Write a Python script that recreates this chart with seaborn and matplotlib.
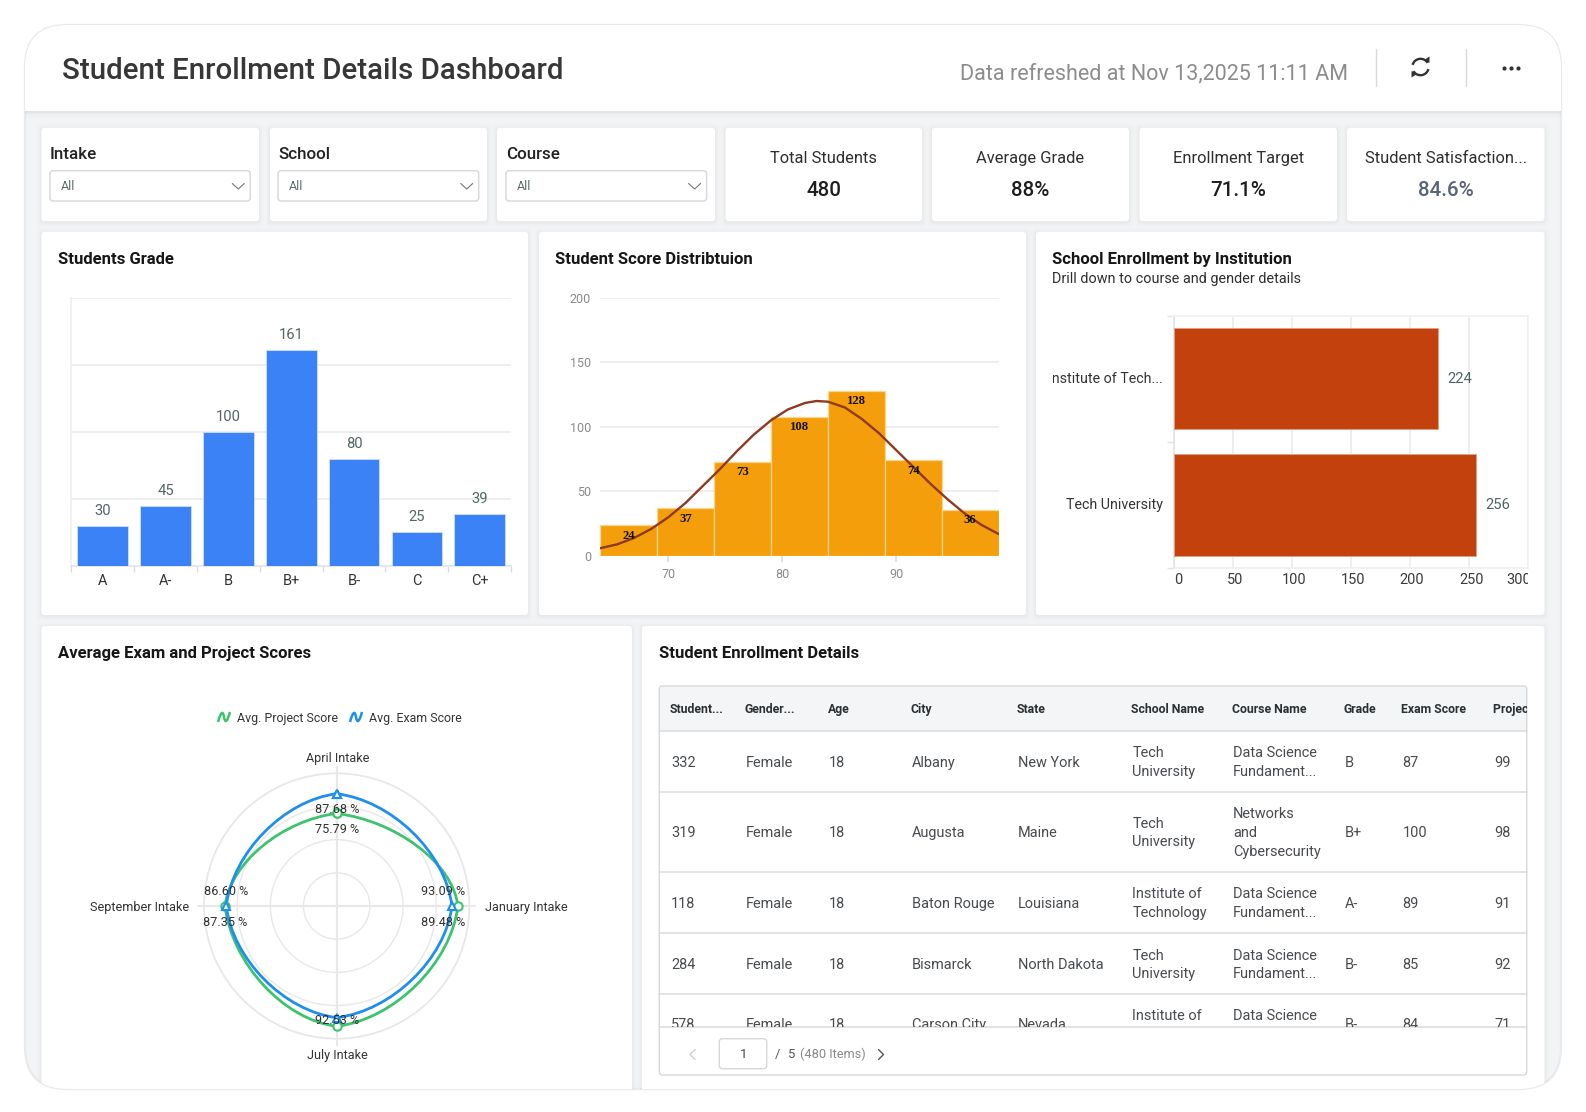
import numpy as np
import pandas as pd
import matplotlib
matplotlib.use("Agg")
import matplotlib.pyplot as plt
import matplotlib.patches as mp
from matplotlib.path import Path
from matplotlib.transforms import Bbox, ScaledTranslation
import seaborn as sns

# ---------- data ----------
grades = ["A", "A-", "B", "B+", "B-", "C", "C+"]
grade_counts = [30, 45, 100, 161, 80, 25, 39]

score_edges = [64, 69, 74, 79, 84, 89, 94, 99]
score_counts = [24, 37, 73, 108, 128, 74, 36]
curve_x = [64, 65.5, 67, 68.5, 70, 71.5, 73, 74.5, 76, 77.5, 79, 80.5, 82, 83, 84,
           85.5, 87, 88.5, 90, 91.5, 93, 94.5, 96, 97.5, 99]
curve_y = [6, 9, 14, 21, 30, 41, 54, 67, 81, 94, 105, 113.5, 118.5, 120, 119.5,
           115, 106, 95, 82, 69, 56, 44, 33, 24, 17]

schools = ["Institute of Tech...", "Tech University"]
school_counts = [224, 256]

intakes = ["April Intake", "January Intake", "July Intake", "September Intake"]
project_scores = [75.79, 93.09, 92.53, 87.35]
exam_scores = [87.68, 89.48, 87.3, 86.60]

kpi_names = ["Total Students", "Average Grade", "Enrollment Target", "Student Satisfaction..."]
kpi_values = ["480", "88%", "71.1%", "84.6%"]
filters = ["Intake", "School", "Course"]

table_headers = ["Student...", "Gender...", "Age", "City", "State", "School Name",
                 "Course Name", "Grade", "Exam Score", "Project Score"]
table_rows = [
    ["332", "Female", "18", "Albany", "New York", "Tech\nUniversity", "Data Science\nFundament...", "B", "87", "99"],
    ["319", "Female", "18", "Augusta", "Maine", "Tech\nUniversity", "Networks\nand\nCybersecurity", "B+", "100", "98"],
    ["118", "Female", "18", "Baton Rouge", "Louisiana", "Institute of\nTechnology", "Data Science\nFundament...", "A-", "89", "91"],
    ["284", "Female", "18", "Bismarck", "North Dakota", "Tech\nUniversity", "Data Science\nFundament...", "B-", "85", "92"],
    ["578", "Female", "18", "Carson City", "Nevada", "Institute of\nTechnology", "Data Science\nFundament...", "B-", "84", "71"],
]

# ---------- setup ----------
sns.set_theme(style="white")
plt.rcParams["font.family"] = ["Roboto", "DejaVu Sans"]
W, H = 1586, 1112
fig = plt.figure(figsize=(W / 100, H / 100), dpi=100, facecolor="white")
bg = fig.add_axes([0, 0, 1, 1], zorder=0)
bg.set_xlim(0, W); bg.set_ylim(H, 0); bg.axis("off")


def T(x, y, s, **kw):
    return bg.text(x, y + 1.3, s, **kw)


def px_axes(l, t, r, b, **kw):
    return fig.add_axes([l / W, 1 - b / H, (r - l) / W, (b - t) / H], zorder=2, facecolor="none", **kw)


def pt(px):
    return px * 0.72


outer = mp.FancyBboxPatch((25, 25), 1536, 1064, boxstyle="round,pad=0,rounding_size=42",
                          fc="#f3f4f5", ec="#e9eaeb", lw=1.6, zorder=0)
bg.add_patch(outer)


def clipped(patch):
    bg.add_patch(patch)
    patch.set_clip_path(outer)
    return patch


def card(l, t, r, b):
    for g, a in [(5, .008), (3, .012), (1.5, .02)]:
        clipped(mp.FancyBboxPatch((l - g, t - g + 1), r - l + 2 * g, b - t + 2 * g, boxstyle="round,pad=0,rounding_size=4",
                                  fc="black", ec="none", alpha=a, zorder=1))
    clipped(mp.FancyBboxPatch((l, t), r - l, b - t, boxstyle="round,pad=0,rounding_size=3",
                              fc="white", ec="none", zorder=1.2))


# header
for g, a in [(7, .012), (4, .02), (2, .035)]:
    clipped(mp.Rectangle((25, 25), 1536, 85.7 + g, fc="black", ec="none", alpha=a, zorder=.5))
clipped(mp.Rectangle((25, 25), 1536, 85.7, fc="white", ec="none", zorder=.6))
T(62, 69.7, "Student Enrollment Details Dashboard", fontsize=pt(29.5), color="#373737",
  va="center", fontweight="medium", zorder=3)
T(960.5, 72.2, "Data refreshed at Nov 13,2025 11:11 AM", fontsize=pt(21.55), color="#8c8c8c", va="center", zorder=3)
for x in (1375.6, 1465.7):
    bg.plot([x, x], [49, 85.7], color="#d9d9d9", lw=1, zorder=3)
# refresh icon
cx, cy, rr = 1420.5, 67, 8.2
bg.add_patch(mp.Arc((cx, cy), 2 * rr, 2 * rr, theta1=195, theta2=330, color="#333", lw=1.7, zorder=3))
bg.add_patch(mp.Arc((cx, cy), 2 * rr, 2 * rr, theta1=15, theta2=150, color="#333", lw=1.7, zorder=3))
bg.add_patch(mp.Polygon([[cx + 3.5, cy - 7], [cx + 9, cy - 10.5], [cx + 9, cy - 4]], fc="#333", ec="none", zorder=3))
bg.add_patch(mp.Polygon([[cx - 3.5, cy + 7], [cx - 9, cy + 10.5], [cx - 9, cy + 4]], fc="#333", ec="none", zorder=3))
bg.scatter([1504, 1511, 1518], [68, 68, 68], s=9, color="#333", zorder=3, linewidths=0)

# filter cards
for name, (l, r), (bl, br) in zip(filters, [(41.4, 259), (270, 487), (497, 715)],
                                  [(50, 250.3), (278, 478.7), (506, 706.6)]):
    card(l, 127.7, r, 221)
    T(bl, 153, name, fontsize=pt(17), color="#222", va="center", fontweight="medium", zorder=3)
    bg.add_patch(mp.FancyBboxPatch((bl, 170.7), br - bl, 30.3, boxstyle="round,pad=0,rounding_size=3",
                                   fc="white", ec="#d9dadb", lw=1.1, zorder=3))
    T(bl + 11, 185, "All", fontsize=pt(12.5), color="#5b6b6b", va="center", zorder=3.2)
    bg.plot([br - 18, br - 12, br - 6], [183.5, 189, 183.5], color="#777", lw=.8, zorder=3.2)

# KPI cards
for name, val, (l, r) in zip(kpi_names, kpi_values, [(725.5, 922), (932, 1129), (1139.5, 1337), (1347, 1544.5)]):
    card(l, 127.7, r, 221)
    c = (l + r) / 2
    T(c, 157.3, name, fontsize=pt(16.5), color="#2e2e2e", ha="center", va="center", zorder=3)
    col = "#566378" if val == "84.6%" else "#1d1d1d"
    T(c, 189.5, val, fontsize=pt(20.5), color=col, ha="center", va="center", fontweight="medium", zorder=3)

# panels
card(41.4, 231.7, 528, 615)
card(539, 231.7, 1026, 615)
card(1036, 231.7, 1544.5, 615)
card(41.4, 626, 632, 1095)
card(642, 626, 1544.5, 1095)


def ptitle(x, y, s):
    T(x, y, s, fontsize=pt(16.6), color="#161616", va="center", fontweight="bold", zorder=3)


ptitle(58, 258, "Students Grade")
ptitle(555.2, 258, "Student Score Distribtuion")
ptitle(1052.5, 258, "School Enrollment by Institution")
T(1052.5, 277.6, "Drill down to course and gender details", fontsize=pt(14.4), color="#2e2e2e", va="center", zorder=3)
ptitle(58, 652, "Average Exam and Project Scores")
ptitle(659, 652, "Student Enrollment Details")

GRID = "#e9e9e9"

# ---------- grade bars ----------
ax = px_axes(71.2, 297.7, 511.2, 566)
sns.barplot(x=grades, y=grade_counts, color="#3b82f6", saturation=1, width=.805, ax=ax,
            edgecolor="#cfe0fb", linewidth=.6, zorder=3)
ax.set_xlim(-.5, 6.5); ax.set_ylim(0, 200)
ax.set_yticks([50, 100, 150, 200]); ax.set_yticklabels([])
ax.yaxis.grid(True, color=GRID, lw=1.1); ax.set_axisbelow(True)
ax.xaxis.grid(False)
ax.set_xticks(np.arange(-.5, 7), minor=True)
ax.tick_params(axis="x", which="minor", length=4, color="#dddddd", width=1, bottom=True)
ax.tick_params(axis="x", which="major", length=0, pad=pt(8), labelsize=pt(14.5), labelcolor="#333333")
ax.tick_params(axis="y", length=0)
for s in ax.spines.values():
    s.set_visible(False)
ax.spines["bottom"].set_visible(True); ax.spines["bottom"].set_color("#e4e4e4")
ax.spines["left"].set_visible(True); ax.spines["left"].set_color("#efefef")
for i, v in enumerate(grade_counts):
    ax.annotate(str(v), (i, v), xytext=(0, pt(8)), textcoords="offset points", ha="center", va="bottom",
                fontsize=pt(14.8), color="#536565", zorder=5)

# ---------- histogram ----------
ax = px_axes(600, 297.7, 998.7, 556)
sns.histplot(x=score_edges[:-1], weights=score_counts, bins=score_edges, color="#f59e0b", alpha=1,
             edgecolor="#fcd68c", linewidth=.9, ax=ax, zorder=3)
sns.lineplot(x=curve_x, y=curve_y, color="#8f3a20", lw=1.7, ax=ax, zorder=4, estimator=None, sort=False)
ax.set_xlim(score_edges[0], score_edges[-1]); ax.set_ylim(0, 200)
ax.set_xticks([70, 80, 90]); ax.set_yticks([0, 50, 100, 150, 200]); ax.set_ylabel("")
ax.yaxis.grid(True, color=GRID, lw=1.1); ax.set_axisbelow(True)
ax.tick_params(axis="y", length=0, pad=pt(9), labelsize=pt(12.5), labelcolor="#8a8a8a")
ax.tick_params(axis="x", length=4, color="#dddddd", pad=pt(6.5), labelsize=pt(12.5), labelcolor="#8a8a8a", bottom=True)
for s in ax.spines.values():
    s.set_visible(False)
for l_, r_, v in zip(score_edges[:-1], score_edges[1:], score_counts):
    ax.annotate(str(v), ((l_ + r_) / 2, v), xytext=(0, -pt(10.5)), textcoords="offset points", ha="center", va="center",
                fontsize=pt(12.8), color="#111111", fontweight="bold", family="Liberation Serif", zorder=6)

# ---------- school bars ----------
ax = px_axes(1173.8, 315.5, 1528.2, 567.8)
sns.barplot(y=schools, x=school_counts, color="#c2410c", saturation=1, width=.807, orient="h", ax=ax,
            edgecolor="#e0a084", linewidth=.7, zorder=3)
ax.set_xlim(0, 300); ax.set_ylim(1.5, -.5)
ax.set_xticks(np.arange(0, 301, 50))
ax.xaxis.grid(True, color=GRID, lw=1.1); ax.yaxis.grid(False); ax.set_axisbelow(True)
ax.tick_params(axis="x", length=0, pad=pt(5), labelsize=pt(14.5), labelcolor="#3a3a3a")
ax.tick_params(axis="y", which="major", length=0, pad=pt(11), labelsize=pt(14.2), labelcolor="#333333")
ax.set_yticks([-.5, .5, 1.5], minor=True)
ax.tick_params(axis="y", which="minor", length=5, color="#e4e4e4", left=True)
for s in ax.spines.values():
    s.set_visible(False)
ax.spines["left"].set_visible(True); ax.spines["left"].set_color("#e4e4e4")
ax.spines["bottom"].set_visible(True); ax.spines["bottom"].set_color("#efefef")
ax.spines["top"].set_visible(True); ax.spines["top"].set_color("#f2f2f2")
ax.spines["right"].set_visible(True); ax.spines["right"].set_color("#f2f2f2")
fig.canvas.draw()
clip = Bbox([[1053, 0], [1527.7, H]])
for lab in ax.get_xticklabels():
    t = lab.get_text()
    dx = 2.0
    if t == "0":
        lab.set_ha("left"); dx = 0
    if t == "300":
        dx = -10
    lab.set_transform(lab.get_transform() + ScaledTranslation(dx / 100, 0, fig.dpi_scale_trans))
    lab.set_clip_box(clip); lab.set_clip_on(True)
for lab in ax.get_yticklabels():
    lab.set_transform(lab.get_transform() + ScaledTranslation(0, 1.5 / 100, fig.dpi_scale_trans))
    lab.set_clip_box(clip); lab.set_clip_on(True)
for i, v in enumerate(school_counts):
    ax.annotate(str(v), (v, i), xytext=(pt(9), 0), textcoords="offset points", va="center",
                fontsize=pt(14.8), color="#4d6464", zorder=5)

# ---------- radar ----------
R = 132.7
rcx, rcy = 336.7, 906
ax = px_axes(rcx - R, rcy - R, rcx + R, rcy + R, projection="polar")
ax.set_theta_zero_location("N"); ax.set_theta_direction(-1)
theta = np.deg2rad([0, 90, 180, 270, 360])
RMIN, RMAX = 20, 100
ax.set_ylim(RMIN, RMAX)
ax.set_xticks(theta[:-1]); ax.set_xticklabels([])
ax.set_yticks([40, 60, 80, 100]); ax.set_yticklabels([])
ax.yaxis.grid(True, color="#e8e8e8", lw=1); ax.xaxis.grid(True, color="#e8e8e8", lw=1.5)
ax.spines["polar"].set_color("#e8e8e8")
for t in theta[:-1]:
    ax.plot([t, t], [RMIN, 103.5], color="#e8e8e8", lw=1.5, clip_on=False, zorder=1)


def smooth_path(vals, k=.48, tilt=np.deg2rad(7)):
    """Rounded closed curve through the four axis values, in axes fractions (y up)."""
    pts, verts, codes = [], [], []
    for th, v in zip(theta[:-1], vals):
        rad = (v - RMIN) / (RMAX - RMIN) / 2
        pts.append((rad, th))
    pts.append(pts[0])
    def xy(rad, th):
        return np.array([.5 + rad * np.sin(th), .5 + rad * np.cos(th)])
    for i, ((r0, t0), (r1, t1)) in enumerate(zip(pts[:-1], pts[1:])):
        p0, p1 = xy(r0, t0), xy(r1, t1)
        u0 = np.array([np.cos(t0), -np.sin(t0)]); n0 = np.array([np.sin(t0), np.cos(t0)])
        u1 = np.array([-np.cos(t1), np.sin(t1)]); n1 = np.array([np.sin(t1), np.cos(t1)])
        c0 = p0 + k * r1 * (np.cos(tilt) * u0 - np.sin(tilt) * n0)
        c1 = p1 + k * r0 * (np.cos(tilt) * u1 - np.sin(tilt) * n1)
        if i == 0:
            verts.append(p0); codes.append(Path.MOVETO)
        verts += [c0, c1, p1]; codes += [Path.CURVE4] * 3
    return Path(verts, codes)


for vals, col, mk in [(project_scores, "#3cc46c", "o"), (exam_scores, "#1e8ef0", "^")]:
    ax.add_patch(mp.PathPatch(smooth_path(vals), fc="none", ec=col, lw=2, transform=ax.transAxes,
                              clip_on=False, zorder=3))
    sns.lineplot(x=theta, y=list(vals) + [vals[0]], color=col, lw=0, marker=mk, markersize=6,
                 markerfacecolor="white", markeredgecolor=col, markeredgewidth=1.5,
                 ax=ax, estimator=None, sort=False, zorder=3.5, clip_on=False)
ax.set_xlabel(""); ax.set_ylabel("")
ax.set_ylim(RMIN, RMAX)

lab_font = dict(fontsize=pt(12.6), color="#333333", va="center", zorder=4)
T(337.3, 757.5, intakes[0], ha="center", **lab_font)
T(485, 906.5, intakes[1], ha="left", **lab_font)
T(337.3, 1054.5, intakes[2], ha="center", **lab_font)
T(189, 906.5, intakes[3], ha="right", **lab_font)
vfont = dict(fontsize=pt(12.6), color="#303030", ha="center", va="center", zorder=5)
for txt, x, y in [(exam_scores[0], 336.7, 809.5), (project_scores[0], 336.7, 829.3),
                  (project_scores[1], 443.3, 891.7), (exam_scores[1], 443.3, 922.7),
                  (exam_scores[3], 226, 891.7), (project_scores[3], 225, 922.7),
                  (project_scores[2], 336.7, 1020.3)]:
    fig.text(x / W, 1 - y / H, f"{txt:.2f} %", **vfont).set_zorder(5)

# legend of radar
for x0, col, name, tx in [(218, "#3cc46c", "Avg. Project Score", 237.3), (350, "#1e8ef0", "Avg. Exam Score", 369.3)]:
    verts = [(x0, 722), (x0 + 3, 711), (x0 + 5, 711), (x0 + 6, 717), (x0 + 7, 723), (x0 + 9, 723), (x0 + 12, 712)]
    bg.add_patch(mp.PathPatch(Path(verts, [Path.MOVETO] + [Path.CURVE4] * 6), fc="none", ec=col, lw=1.8, zorder=3))
    T(tx, 717.3, name, fontsize=pt(12.4), color="#333333", va="center", zorder=3)

# ---------- table ----------
TL, TR, TT, TB, FT = 659.3, 1526.7, 686, 1075, 1027.3
tab = mp.FancyBboxPatch((TL, TT), TR - TL, TB - TT, boxstyle="round,pad=0,rounding_size=3", fc="white", ec="#d5d7d9", lw=1, zorder=2)
bg.add_patch(tab)
bg.add_patch(mp.Rectangle((TL + .5, TT + .5), TR - TL - 1, 730.7 - TT, fc="#f3f5f6", ec="none", zorder=2.1))
for y in (730.7, 792, 871.7, 933.3, 994.3, FT):
    bg.plot([TL, TR], [y, y], color="#d8dadc", lw=1.1, zorder=2.2)
col_x = [670, 744.7, 827.7, 910.5, 1017, 1131.2, 1232, 1344, 1401.3, 1493.3]
row_y = [761.7, 832, 902.7, 964, 1024.5]
clip_rect = mp.Rectangle((TL, 686), TR - TL, FT - 686, transform=bg.transData)
line_h = 18.7
for x, h in zip(col_x, table_headers):
    t = T(x, 708.3, h, fontsize=pt(12.2), color="#2a2f33", va="center", fontweight="bold", zorder=3, clip_on=True)
    t.set_clip_path(clip_rect)
for r_i, (row, y) in enumerate(zip(table_rows, row_y)):
    for x, v in zip(col_x, row):
        lines = v.split("\n")
        for k, line in enumerate(lines):
            yy = y + (k - (len(lines) - 1) / 2) * line_h
            t = T(x + 1, yy - .4, line, fontsize=pt(14.5), color="#474b4f", va="center", zorder=3, clip_on=True)
            t.set_clip_path(clip_rect)
# pagination
bg.plot([695, 690, 695], [1049.5, 1054.5, 1059.5], color="#cfcfcf", lw=1, zorder=3)
bg.add_patch(mp.FancyBboxPatch((719.3, 1038.7), 47.4, 30, boxstyle="round,pad=0,rounding_size=3", fc="white", ec="#d5d7d9", lw=1, zorder=3))
T(743.5, 1053, "1", fontsize=pt(13), color="#444", ha="center", va="center", zorder=3.5)
T(777.5, 1053, "/", fontsize=pt(13), color="#555", ha="center", va="center", zorder=3)
T(788, 1053, "5", fontsize=pt(13), color="#555", va="center", zorder=3)
T(800, 1053, "(480 Items)", fontsize=pt(12.7), color="#8a8a8a", va="center", zorder=3)
bg.plot([878.5, 883.5, 878.5], [1049.5, 1054.5, 1059.5], color="#555", lw=1, zorder=3)

fig.savefig("out.png", dpi=100)
